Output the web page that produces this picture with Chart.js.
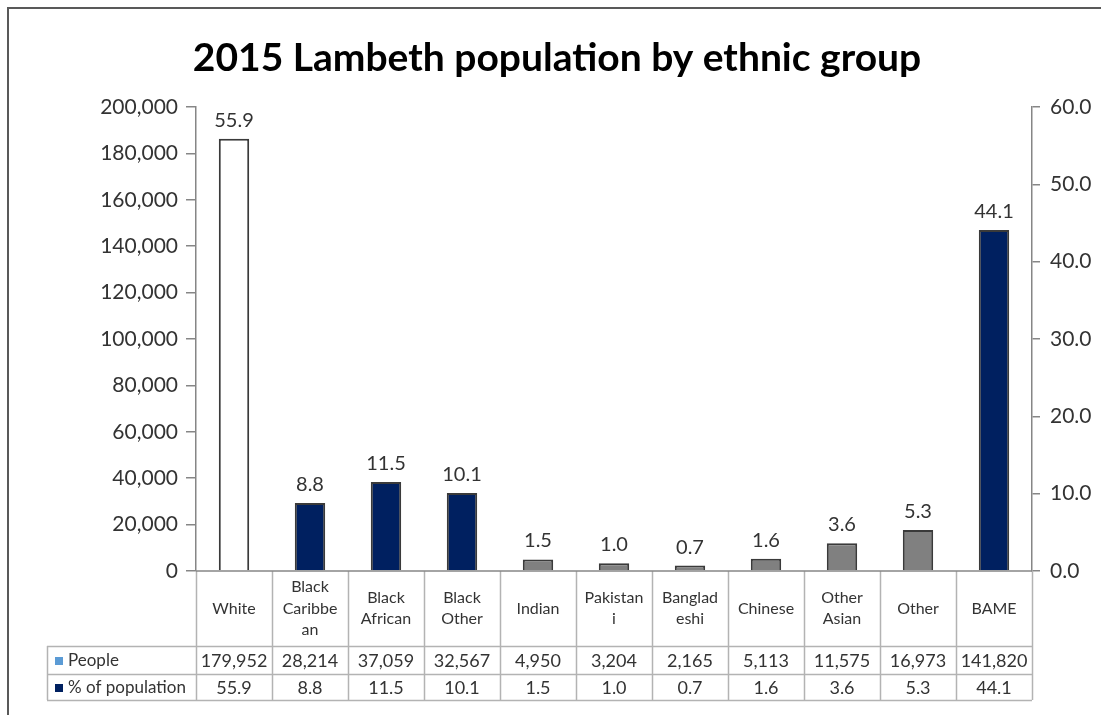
<!DOCTYPE html>
<html>
<head>
<meta charset="utf-8">
<script src="https://cdn.jsdelivr.net/npm/chart.js@4.4.1/dist/chart.umd.min.js"></script>
<style>
  html, body { margin: 0; padding: 0; background: #ffffff; }
  #wrap { width: 1101px; height: 715px; position: relative; }
</style>
</head>
<body>
<div id="wrap"><canvas id="c" width="1101" height="715"></canvas></div>
<script>
// ---- data ----
const chartTitle = '2015 Lambeth population by ethnic group';
const categories = [
  ['White'], ['Black', 'Caribbe', 'an'], ['Black', 'African'], ['Black', 'Other'],
  ['Indian'], ['Pakistan', 'i'], ['Banglad', 'eshi'], ['Chinese'],
  ['Other', 'Asian'], ['Other'], ['BAME']
];
const peopleLabel = 'People';
const people = [179952, 28214, 37059, 32567, 4950, 3204, 2165, 5113, 11575, 16973, 141820];
const percentLabel = '% of population';
const percent = [55.9, 8.8, 11.5, 10.1, 1.5, 1.0, 0.7, 1.6, 3.6, 5.3, 44.1];
const leftAxis = { min: 0, max: 200000, step: 20000 };
const rightAxis = { min: 0, max: 60, step: 10 };

// ---- styles ----
const NAVY = '#002060', GREY = '#808080', WHITE = '#ffffff';
const barFill = [WHITE, NAVY, NAVY, NAVY, GREY, GREY, GREY, GREY, GREY, GREY, NAVY];
const FONT = 'Lato, "Open Sans", sans-serif';
const TEXT = '#333333';
const AXIS = '#868686';
const TABLE_LINE = '#b3b3b3';

const W = 1101, H = 715;
const PLOT_LEFT = 196, PLOT_RIGHT = 1032, PLOT_TOP = 107, PLOT_BOTTOM = 571;
const ROW1 = 646, ROW2 = 674, ROW3 = 700, TABLE_LEFT = 47;

const fmt = n => n.toLocaleString('en-US');

const decorPlugin = {
  id: 'decor',
  beforeDraw(chart) {
    const ctx = chart.ctx;
    ctx.save();
    ctx.fillStyle = '#ffffff';
    ctx.fillRect(0, 0, W, H);
    // outer frame
    ctx.strokeStyle = '#595959';
    ctx.lineWidth = 2;
    ctx.beginPath();
    ctx.moveTo(8, H); ctx.lineTo(8, 8); ctx.lineTo(W, 8);
    ctx.stroke();
    // title
    ctx.fillStyle = '#000000';
    ctx.font = 'bold 39px ' + FONT;
    ctx.textAlign = 'center';
    ctx.textBaseline = 'alphabetic';
    ctx.fillText(chartTitle, 557, 71);
    ctx.restore();
  },
  afterDatasetsDraw(chart) {
    const ctx = chart.ctx;
    const meta = chart.getDatasetMeta(0);
    ctx.save();
    ctx.fillStyle = TEXT;
    ctx.font = '20px ' + FONT;
    ctx.textAlign = 'center';
    ctx.textBaseline = 'alphabetic';
    meta.data.forEach((bar, i) => {
      ctx.fillText(percent[i].toFixed(1), bar.x, bar.y - 12);
    });
    ctx.restore();
  },
  afterDraw(chart) {
    const ctx = chart.ctx;
    const xs = chart.scales.x;
    const n = categories.length;
    const half = (xs.getPixelForValue(1) - xs.getPixelForValue(0)) / 2;
    const left = xs.getPixelForValue(0) - half;
    const right = xs.getPixelForValue(n - 1) + half;
    const bottom = chart.chartArea.bottom;
    ctx.save();
    // table lines
    ctx.strokeStyle = TABLE_LINE;
    ctx.lineWidth = 1.5;
    ctx.beginPath();
    for (let i = 0; i <= n; i++) {
      const x = Math.round(xs.getPixelForValue(i) - half) + 0.5;
      ctx.moveTo(x, bottom); ctx.lineTo(x, ROW3);
    }
    ctx.moveTo(TABLE_LEFT + 0.5, ROW1); ctx.lineTo(TABLE_LEFT + 0.5, ROW3);
    [ROW1, ROW2, ROW3].forEach(y => { ctx.moveTo(TABLE_LEFT, y + 0.5); ctx.lineTo(right, y + 0.5); });
    ctx.stroke();
    // x axis line
    ctx.strokeStyle = AXIS;
    ctx.lineWidth = 1.5;
    ctx.beginPath();
    ctx.moveTo(left, bottom); ctx.lineTo(right, bottom);
    ctx.stroke();

    // header labels
    ctx.fillStyle = TEXT;
    ctx.textAlign = 'center';
    ctx.textBaseline = 'middle';
    ctx.font = '16px ' + FONT;
    const lh = 21.5;
    const hMid = (bottom + ROW1) / 2;
    categories.forEach((lines, i) => {
      const cx = xs.getPixelForValue(i);
      const y0 = hMid - (lines.length - 1) * lh / 2;
      lines.forEach((t, k) => ctx.fillText(t, cx, y0 + k * lh));
    });
    // values
    ctx.font = '18px ' + FONT;
    const r1 = (ROW1 + ROW2) / 2 + 1, r2 = (ROW2 + ROW3) / 2 + 1;
    people.forEach((v, i) => ctx.fillText(fmt(v), xs.getPixelForValue(i), r1));
    percent.forEach((v, i) => ctx.fillText(v.toFixed(1), xs.getPixelForValue(i), r2));
    // row labels with keys
    ctx.textAlign = 'left';
    ctx.fillStyle = '#5b9bd5';
    ctx.fillRect(55, r1 - 4, 8, 8);
    ctx.fillStyle = NAVY;
    ctx.fillRect(55, r2 - 4, 8, 8);
    ctx.fillStyle = TEXT;
    ctx.font = '17px ' + FONT;
    ctx.fillText(peopleLabel, 68, r1);
    ctx.fillText(percentLabel, 68, r2);
    ctx.restore();
  }
};

new Chart(document.getElementById('c'), {
  type: 'bar',
  data: {
    labels: categories,
    datasets: [{
      label: percentLabel,
      data: percent,
      yAxisID: 'y1',
      backgroundColor: barFill,
      borderColor: '#3a3a3a',
      borderWidth: 2,
      barPercentage: 0.4,
      categoryPercentage: 1.0
    }]
  },
  options: {
    responsive: false,
    animation: false,
    devicePixelRatio: 1,
    layout: { padding: { left: 0, right: 0, top: PLOT_TOP, bottom: H - PLOT_BOTTOM } },
    plugins: { legend: { display: false }, title: { display: false }, tooltip: { enabled: false } },
    scales: {
      x: { display: false, offset: true },
      y: {
        position: 'left',
        min: leftAxis.min, max: leftAxis.max,
        ticks: { stepSize: leftAxis.step, callback: v => fmt(v), color: TEXT, font: { family: FONT, size: 21 }, padding: 8 },
        grid: { drawOnChartArea: false, tickLength: 10, color: AXIS, lineWidth: 1.5 },
        border: { color: AXIS, width: 1.5 },
        afterFit: s => { s.width = PLOT_LEFT; }
      },
      y1: {
        position: 'right',
        min: rightAxis.min, max: rightAxis.max,
        ticks: { stepSize: rightAxis.step, callback: v => v.toFixed(1), color: TEXT, font: { family: FONT, size: 21 }, padding: 10 },
        grid: { drawOnChartArea: false, tickLength: 8, color: AXIS, lineWidth: 1.5 },
        border: { color: AXIS, width: 1.5 },
        afterFit: s => { s.width = W - PLOT_RIGHT; }
      }
    }
  },
  plugins: [decorPlugin]
});
</script>
</body>
</html>
